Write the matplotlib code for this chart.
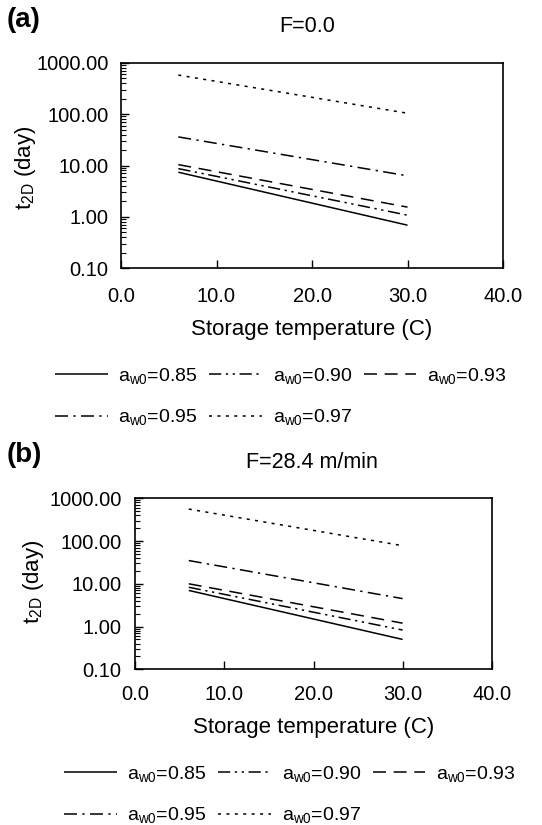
import matplotlib
matplotlib.use("Agg")
import matplotlib.pyplot as plt
from matplotlib.ticker import FixedLocator, LogLocator, FormatStrFormatter, NullFormatter

plt.rcParams['font.family'] = ['Liberation Sans', 'DejaVu Sans']
plt.rcParams['mathtext.fontset'] = 'custom'
plt.rcParams['mathtext.rm'] = 'Liberation Sans'
plt.rcParams['mathtext.it'] = 'Liberation Sans:italic'

# storage temperature (C), end points of each line
temp = [6, 30]

# panel (a): F = 0.0
a_085 = [7.4, 0.69]
a_090 = [8.7, 1.08]
a_093 = [10.4, 1.55]
a_095 = [36, 6.3]
a_097 = [575, 104]

# panel (b): F = 28.4 m/min
b_085 = [7.0, 0.50]
b_090 = [8.3, 0.83]
b_093 = [10.0, 1.2]
b_095 = [35, 4.5]
b_097 = [560, 78]

aw_labels = ['0.85', '0.90', '0.93', '0.95', '0.97']
styles = [(0, ()), (0, (8, 3, 1.5, 3, 1.5, 3)), (0, (8.5, 5)),
          (0, (8.5, 3.5, 1.5, 3.5)), (0, (2, 3.5))]

W, H = 542, 825
fig = plt.figure(figsize=(W / 100, H / 100), dpi=100)


def fx(px):
    return px / W


def fy(py):
    return 1 - py / H


def panel(box, series, tag, tag_y, title, title_x, title_y,
          xlab_y, ylab_x, ylab_y, xpad, ypad, leg_x, leg_y):
    l, t, r, b = box
    ax = fig.add_axes([fx(l), fy(b), fx(r) - fx(l), fy(t) - fy(b)])
    lines = []
    for vals, ls, lab in zip(series, styles, aw_labels):
        ln, = ax.plot(temp, vals, color='black', lw=1.1, linestyle=ls,
                      label=r'a$_{\mathrm{w0}}$=' + lab)
        lines.append(ln)
    ax.set_yscale('log')
    ax.set_xlim(0, 40)
    ax.set_ylim(0.1, 1000)
    ax.xaxis.set_major_locator(FixedLocator([0, 10, 20, 30, 40]))
    ax.xaxis.set_major_formatter(FormatStrFormatter('%.1f'))
    ax.yaxis.set_major_locator(FixedLocator([0.1, 1, 10, 100, 1000]))
    ax.yaxis.set_major_formatter(FormatStrFormatter('%.2f'))
    ax.yaxis.set_minor_locator(LogLocator(base=10, subs=range(2, 10)))
    ax.yaxis.set_minor_formatter(NullFormatter())
    ax.tick_params(axis='x', which='major', direction='in', length=6,
                   width=1, labelsize=14.5, pad=xpad, top=False)
    ax.tick_params(axis='y', which='major', direction='in', length=6,
                   width=1, labelsize=14.5, pad=ypad, right=False)
    ax.tick_params(axis='y', which='minor', direction='in', length=3.5,
                   width=0.8, right=False)
    for s in ax.spines.values():
        s.set_linewidth(1.2)

    fig.text(fx(7), fy(tag_y), tag, fontsize=20, fontweight='bold',
             ha='left', va='center')
    fig.text(fx(title_x), fy(title_y), title, fontsize=15.5,
             ha='center', va='center')
    fig.text(fx((l + r) / 2), fy(xlab_y), 'Storage temperature (C)',
             fontsize=16, ha='center', va='center')
    fig.text(fx(ylab_x), fy(ylab_y), r't$_{\mathrm{2D}}$ (day)',
             fontsize=16, ha='center', va='center', rotation=90)

    order = [0, 3, 1, 4, 2]
    fig.legend([lines[i] for i in order],
               [lines[i].get_label() for i in order],
               ncol=3, loc='upper left',
               bbox_to_anchor=(fx(leg_x), fy(leg_y)),
               frameon=False, fontsize=14, borderpad=0, borderaxespad=0,
               handlelength=2.7, handletextpad=0.55,
               columnspacing=0.6, labelspacing=1.1)
    return ax


panel((121, 62.7, 503, 268.3),
      [a_085, a_090, a_093, a_095, a_097],
      '(a)', 20, 'F=0.0', 307, 27,
      329, 25, 168, 13.5, 9, 55, 366)

panel((135.3, 498.3, 491.7, 669.3),
      [b_085, b_090, b_093, b_095, b_097],
      '(b)', 455, 'F=28.4 m/min', 312, 463,
      728, 33, 582, 11, 10, 64, 764)

fig.savefig('out.png', dpi=100)
